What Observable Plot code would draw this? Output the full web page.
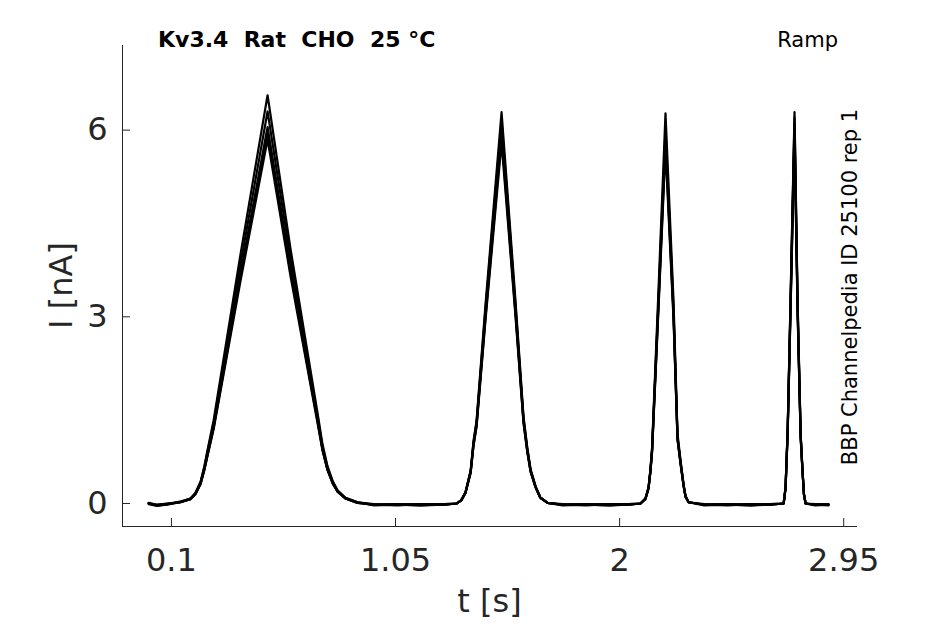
<!DOCTYPE html>
<html><head><meta charset="utf-8">
<script src="https://cdn.jsdelivr.net/npm/d3@7"></script>
<script src="https://cdn.jsdelivr.net/npm/@observablehq/plot@0.6"></script>
<style>body{margin:0;background:#fff;} #chart svg{display:block;}</style>
</head><body><div id="chart"></div>
<script>
// time samples (s), shared by all repetitions
const time = [-0.005, 0.03, 0.07, 0.13, 0.172, 0.193, 0.215, 0.231, 0.244, 0.270, 0.384, 0.499, 0.596, 0.711, 0.732, 0.753, 0.775, 0.796, 0.829, 0.880,
  0.95, 1.05, 1.15, 1.25, 1.300,
  1.320, 1.338, 1.360, 1.372, 1.385, 1.423, 1.491, 1.550, 1.584, 1.600, 1.614, 1.635, 1.655, 1.686,
  1.75, 1.85, 1.95, 2.03, 2.080,
  2.101, 2.114, 2.122, 2.129, 2.157, 2.186, 2.220, 2.237, 2.250, 2.263, 2.271, 2.284,
  2.35, 2.45, 2.55, 2.63, 2.687,
  2.695, 2.704, 2.716, 2.733, 2.746, 2.759, 2.767, 2.773, 2.780,
  2.82, 2.877];
// current (nA) for each repetition
const trace1 = [0.0, -0.03, -0.01, 0.03, 0.08, 0.17, 0.35, 0.6, 0.85, 1.33, 4.0, 6.56, 4.1, 1.45, 0.95, 0.6, 0.36, 0.21, 0.09, 0.02,
  -0.02, -0.01, -0.02, -0.01, 0.0,
  0.05, 0.18, 0.53, 1.0, 1.33, 3.2, 6.29, 3.26, 1.4, 0.9, 0.55, 0.28, 0.10, 0.01,
  -0.02, -0.01, -0.02, -0.01, 0.0,
  0.08, 0.26, 0.55, 0.9, 3.5, 6.27, 3.26, 1.12, 0.69, 0.3, 0.12, 0.02,
  -0.02, -0.01, -0.02, -0.01, 0.0,
  0.26, 1.2, 3.26, 6.29, 3.26, 1.12, 0.53, 0.15, 0.0,
  -0.02, -0.01];
const trace2 = [0.01, -0.02, 0.0, 0.02, 0.08, 0.16, 0.34, 0.58, 0.82, 1.28, 3.84, 6.30, 3.94, 1.39, 0.91, 0.58, 0.35, 0.20, 0.09, 0.02,
  -0.01, -0.02, -0.01, -0.02, 0.0,
  0.05, 0.18, 0.52, 0.98, 1.30, 3.13, 6.15, 3.19, 1.37, 0.88, 0.54, 0.27, 0.10, 0.01,
  -0.01, -0.02, -0.01, -0.02, 0.0,
  0.08, 0.25, 0.53, 0.86, 3.35, 6.0, 3.12, 1.07, 0.66, 0.29, 0.11, 0.02,
  -0.01, -0.02, -0.01, -0.02, 0.0,
  0.26, 1.18, 3.21, 6.2, 3.21, 1.10, 0.52, 0.15, 0.0,
  -0.01, -0.02];
const trace3 = [-0.01, -0.04, -0.02, 0.03, 0.07, 0.16, 0.32, 0.55, 0.78, 1.23, 3.69, 6.05, 3.78, 1.34, 0.88, 0.55, 0.33, 0.19, 0.08, 0.02,
  -0.03, -0.02, -0.03, -0.01, 0.0,
  0.05, 0.17, 0.51, 0.95, 1.27, 3.05, 6.0, 3.11, 1.34, 0.86, 0.52, 0.27, 0.10, 0.01,
  -0.03, -0.02, -0.03, -0.01, 0.0,
  0.08, 0.24, 0.52, 0.85, 3.29, 5.9, 3.07, 1.05, 0.65, 0.28, 0.11, 0.02,
  -0.03, -0.02, -0.03, -0.01, 0.0,
  0.25, 1.16, 3.16, 6.1, 3.16, 1.09, 0.51, 0.15, 0.0,
  -0.03, -0.02];
const trace4 = [0.0, -0.02, -0.01, 0.02, 0.07, 0.15, 0.32, 0.54, 0.77, 1.21, 3.63, 5.95, 3.72, 1.32, 0.86, 0.54, 0.33, 0.19, 0.08, 0.01,
  -0.02, -0.03, -0.01, -0.02, 0.0,
  0.05, 0.17, 0.50, 0.94, 1.25, 3.0, 5.9, 3.06, 1.31, 0.84, 0.52, 0.26, 0.09, 0.01,
  -0.02, -0.03, -0.01, -0.02, 0.0,
  0.07, 0.24, 0.51, 0.83, 3.24, 5.8, 3.02, 1.04, 0.64, 0.28, 0.11, 0.02,
  -0.02, -0.03, -0.01, -0.02, 0.0,
  0.25, 1.14, 3.11, 6.0, 3.11, 1.07, 0.51, 0.14, 0.0,
  -0.02, -0.03];
const trace5 = [0.0, -0.03, -0.02, 0.02, 0.07, 0.15, 0.31, 0.54, 0.76, 1.19, 3.57, 5.85, 3.66, 1.29, 0.85, 0.54, 0.32, 0.19, 0.08, 0.01,
  -0.02, -0.02, -0.03, -0.02, 0.0,
  0.05, 0.17, 0.49, 0.92, 1.23, 2.95, 5.8, 3.01, 1.29, 0.83, 0.51, 0.26, 0.09, 0.01,
  -0.02, -0.02, -0.03, -0.02, 0.0,
  0.07, 0.24, 0.50, 0.82, 3.18, 5.7, 2.96, 1.02, 0.63, 0.27, 0.11, 0.02,
  -0.02, -0.02, -0.03, -0.02, 0.0,
  0.24, 1.13, 3.06, 5.9, 3.06, 1.05, 0.50, 0.14, 0.0,
  -0.02, -0.02];
const traces = [trace1, trace2, trace3, trace4, trace5];

const xTicks = [0.1, 1.05, 2, 2.95];
const xTickLabels = ["0.1", "1.05", "2", "2.95"];
const yTicks = [0, 3, 6];
const yTickLabels = ["0", "3", "6"];
const xDomain = [-0.116, 3.0];
const yDomain = [-0.37, 7.36];
const titleText = "Kv3.4  Rat  CHO  25 °C";
const protocolText = "Ramp";
const sourceText = "BBP Channelpedia ID 25100 rep 1";
const xLabel = "t [s]";
const yLabel = "I [nA]";

const rows = traces.flatMap((tr, k) => tr.map((v, i) => ({t: time[i], I: v, rep: k})));

const W = 945, H = 624, mL = 122, mR = 88, mT = 45, mB = 98;
const axisColor = "#262626";
const font = "DejaVu Sans";

const chart = Plot.plot({
  width: W, height: H,
  marginLeft: mL, marginRight: mR, marginTop: mT, marginBottom: mB,
  style: {fontFamily: font, background: "#fff", color: axisColor},
  x: {domain: xDomain},
  y: {domain: yDomain},
  marks: [
    Plot.ruleY([yDomain[0]], {stroke: axisColor, strokeWidth: 1}),
    Plot.ruleX([xDomain[0]], {stroke: axisColor, strokeWidth: 1}),
    Plot.axisX({ticks: xTicks, tickFormat: (d, i) => xTickLabels[i], tickSize: -8, tickPadding: 30,
      fontSize: 32, label: null, stroke: axisColor, fill: axisColor, dx: -2}),
    Plot.axisY({ticks: yTicks, tickFormat: (d, i) => yTickLabels[i], tickSize: -8, tickPadding: 23,
      fontSize: 32, label: null, stroke: axisColor, fill: axisColor}),
    Plot.line(rows, {x: "t", y: "I", z: "rep", stroke: "#000", strokeWidth: 2.2, curve: "linear", strokeLinejoin: "round"})
  ]
});

const svg = d3.select(chart);
svg.append("text").attr("x", 158).attr("y", 47).attr("font-family", font).attr("font-size", 22)
  .attr("font-weight", "bold").attr("text-anchor", "start").attr("fill", "#000")
  .style("white-space", "pre").text(titleText);
svg.append("text").attr("x", 838).attr("y", 47).attr("font-family", font).attr("font-size", 21)
  .attr("text-anchor", "end").attr("fill", "#000").text(protocolText);
svg.append("text").attr("transform", "translate(857,287) rotate(-90)").attr("font-family", font).attr("font-size", 21)
  .attr("text-anchor", "middle").attr("fill", "#000").text(sourceText);
svg.append("text").attr("x", (mL + W - mR) / 2).attr("y", 612).attr("font-family", font).attr("font-size", 32)
  .attr("text-anchor", "middle").attr("fill", axisColor).text(xLabel);
svg.append("text").attr("transform", `translate(72,${(mT + H - mB) / 2}) rotate(-90)`).attr("font-family", font).attr("font-size", 32)
  .attr("text-anchor", "middle").attr("fill", axisColor).text(yLabel);

document.getElementById("chart").appendChild(chart);
</script>
</body></html>
